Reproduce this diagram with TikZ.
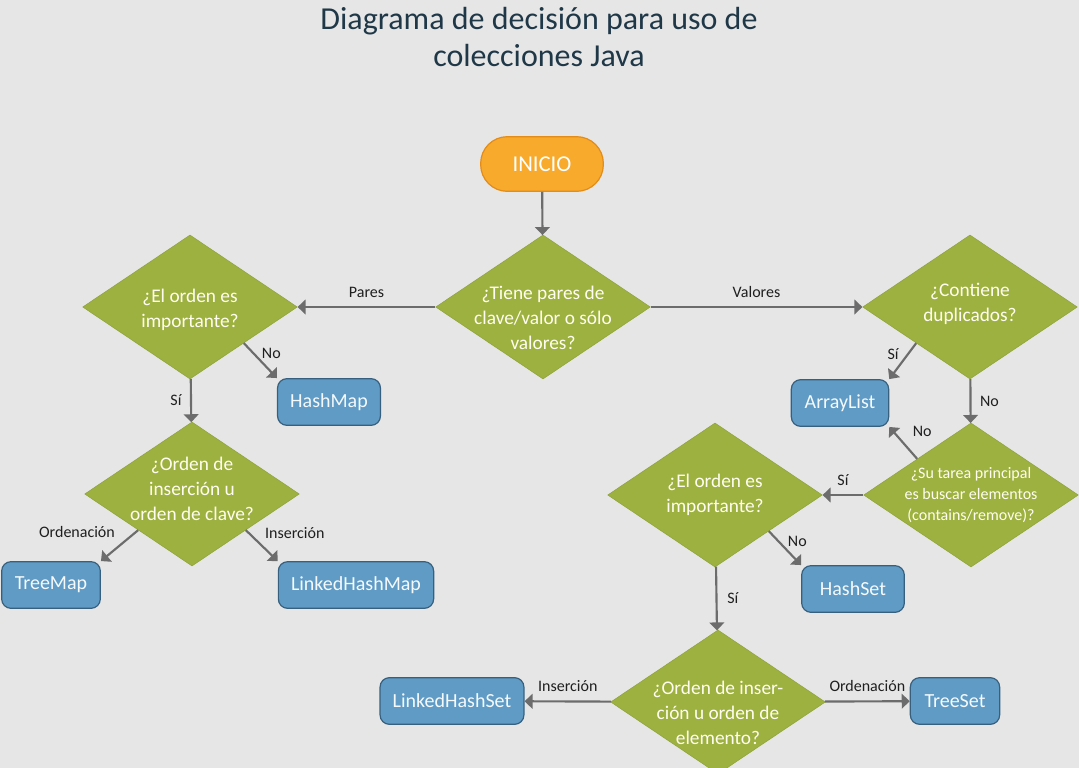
\documentclass[tikz,border=0pt]{standalone}
\usepackage{fontspec}
\setmainfont{Carlito}
\usetikzlibrary{shapes.geometric, arrows.meta, calc}
\definecolor{bgcolor}{RGB}{230, 230, 230}
\definecolor{titleblue}{RGB}{31, 56, 72}
\definecolor{decfill}{RGB}{157, 177, 64}
\definecolor{boxfill}{RGB}{95, 155, 197}
\definecolor{boxline}{RGB}{55, 96, 126}
\definecolor{startfill}{RGB}{248, 170, 44}
\definecolor{startline}{RGB}{228, 140, 24}
\definecolor{arrowgrey}{RGB}{108, 108, 108}
\tikzset{
    x=0.75pt, y=-0.75pt,
    decision/.style={diamond, fill=decfill, draw=decfill!92!black,
        inner sep=0pt, minimum width=161pt, minimum height=108pt},
    dectext/.style={text=white!94!yellow, align=center,
        font=\fontsize{14.5}{18.8}\selectfont},
    outcome/.style={rectangle, rounded corners=7pt, fill=boxfill,
        draw=boxline, line width=0.9pt, text=white!94!boxfill,
        minimum height=35pt, inner xsep=9.5pt,
        font=\fontsize{15}{17}\selectfont},
    startbox/.style={rectangle, rounded corners=20pt, fill=startfill,
        draw=startline, line width=0.9pt, text=white, minimum width=92pt,
        minimum height=41pt, font=\fontsize{17}{19}\selectfont},
    flow/.style={draw=arrowgrey, line width=1.6pt,
        -{Triangle[width=11pt, length=6pt]}},
    choice/.style={font=\fontsize{12}{14}\selectfont, text=black!88},
}

\begin{document}
\begin{tikzpicture}
    \fill[bgcolor] (0, 0) rectangle (1079, 768);
    \useasboundingbox (0, 0) rectangle (1079, 768);
    \node[text=titleblue, align=center, font=\fontsize{24}{28}\selectfont]
        (title) at (539, 37) {Diagrama de decisión para uso de\\colecciones Java};

    \node[startbox] (inicio) at (542, 164) {INICIO};
    \node[decision, label={[dectext, yshift=-8pt]center:¿Tiene pares de\\
        clave/valor o sólo\\valores?}] (pairs) at (543, 307) {};

    % pares clave/valor
    \node[decision, label={[dectext, yshift=-2pt]center:¿El orden es\\
        importante?}] (maporder) at (190, 307) {};
    \node[outcome, minimum width=76pt] (hashmap) at (329, 402) {HashMap};
    \node[decision, label={[dectext, yshift=4pt]center:¿Orden de\\
        inserción u\\orden de clave?}] (mapkind) at (192, 494) {};
    \node[outcome, minimum width=74pt] (treemap) at (51, 585) {TreeMap};
    \node[outcome] (linkedmap) at (356, 585) {LinkedHashMap};

    % solo valores
    \node[decision, label={[dectext, yshift=2pt]center:¿Contiene\\
        duplicados?}] (dups) at (970, 307) {};
    \node[outcome, minimum width=73pt] (arraylist) at (840, 403) {ArrayList};
    \node[decision, label={[dectext, font=\fontsize{12}{16}\selectfont]
        center:¿Su tarea principal\\es buscar elementos\\(contains/remove)?}]
        (search) at (971, 495) {};
    \node[decision, label={[dectext]center:¿El orden es\\importante?}]
        (setorder) at (715, 495) {};
    \node[outcome, minimum width=77pt] (hashset) at (853, 589) {HashSet};
    \node[decision, label={[dectext, yshift=-8pt]center:¿Orden de inser-\\
        ción u orden de\\elemento?}] (setkind) at (718, 702) {};
    \node[outcome] (linkedset) at (452, 701) {LinkedHashSet};
    \node[outcome, minimum width=67pt] (treeset) at (955, 701) {TreeSet};

    \draw[flow] (inicio) -- (pairs);
    \draw[flow] (pairs) -- (maporder) node[choice, midway, above=3pt] {Pares};
    \draw[flow] (pairs) -- (dups) node[choice, midway, above=3pt] {Valores};

    \draw[flow] ($(maporder.east)!.5!(maporder.south)$) -- (hashmap.north west)
        node[choice, pos=.3, right=2pt] {No};
    \draw[flow] (maporder) -- (mapkind) node[choice, midway, left=3pt] {Sí};
    \draw[flow] ($(mapkind.west)!.5!(mapkind.south)$) -- (treemap.north east)
        node[choice, pos=.05, left=12pt] {Ordenación};
    \draw[flow] ($(mapkind.east)!.5!(mapkind.south)$) -- (linkedmap.north west)
        node[choice, pos=.1, right=8pt] {Inserción};

    \draw[flow] ($(dups.west)!.5!(dups.south)$) -- (arraylist.north east)
        node[choice, pos=.3, left=3pt] {Sí};
    \draw[flow] (dups) -- (search) node[choice, midway, right=3pt] {No};
    \draw[flow] ($(search.west)!.5!(search.north)$) -- (arraylist.south east)
        node[choice, pos=.45, above right=2pt] {No};
    \draw[flow] (search) -- (setorder) node[choice, midway, above=3pt] {Sí};
    \draw[flow] ($(setorder.east)!.5!(setorder.south)$) -- (hashset.north west)
        node[choice, pos=.3, right=3pt] {No};
    \draw[flow] (setorder) -- (setkind) node[choice, midway, right=4pt] {Sí};
    \draw[flow] (setkind) -- (linkedset) node[choice, midway, above=3pt] {Inserción};
    \draw[flow] (setkind) -- (treeset) node[choice, midway, above=3pt] {Ordenación};
\end{tikzpicture}
\end{document}
